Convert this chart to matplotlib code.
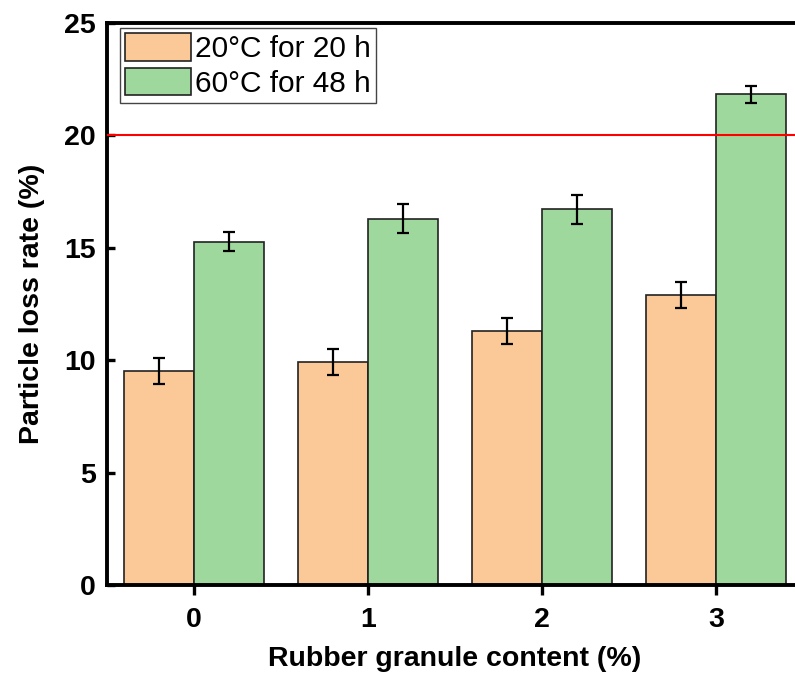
import matplotlib.pyplot as plt
import numpy as np

plt.rcParams['font.family'] = ['Liberation Sans', 'DejaVu Sans']

contents = ["0", "1", "2", "3"]
loss_20c = [9.5, 9.9, 11.28, 12.88]
err_20c = [0.58, 0.58, 0.58, 0.58]
loss_60c = [15.28, 16.3, 16.71, 21.82]
err_60c = [0.42, 0.65, 0.64, 0.36]
limit = 20

x = np.arange(len(contents))
w = 0.4

fig = plt.figure(figsize=(7.95, 6.75), dpi=100)
# axes run past the right edge of the figure, as in the original
ax = fig.add_axes([107 / 795, 90 / 675, 696 / 795, 562 / 675])

ax.bar(x - w / 2, loss_20c, w, color="#FBC997", edgecolor="#222222", linewidth=1.2,
       label="20°C for 20 h", zorder=2)
ax.bar(x + w / 2, loss_60c, w, color="#9FD89D", edgecolor="#222222", linewidth=1.2,
       label="60°C for 48 h", zorder=2)
ax.errorbar(x - w / 2, loss_20c, yerr=err_20c, fmt="none", ecolor="black",
            elinewidth=1.6, capsize=4, capthick=1.6, zorder=3)
ax.errorbar(x + w / 2, loss_60c, yerr=err_60c, fmt="none", ecolor="black",
            elinewidth=1.6, capsize=4, capthick=1.6, zorder=3)
# limit line sits on top of the bars
ax.axhline(limit, color="red", linewidth=1.5, zorder=4)

ax.set_xlim(-0.5, 3.5)
ax.set_ylim(0, 25)
ax.set_xticks(x)
ax.set_xticklabels(contents)
ax.set_yticks([0, 5, 10, 15, 20, 25])

for s in ax.spines.values():
    s.set_linewidth(2.8)
ax.tick_params(axis="x", direction="out", length=7, width=2.4, labelsize=20.5, pad=9)
ax.tick_params(axis="y", direction="in", length=6, width=2.4, labelsize=20.5, pad=8)
for lab in ax.get_xticklabels() + ax.get_yticklabels():
    lab.set_fontweight("bold")

ax.set_xlabel("Rubber granule content (%)", fontsize=20.5, fontweight="bold", labelpad=9)
ax.set_ylabel("Particle loss rate (%)", fontsize=20.5, fontweight="bold", labelpad=14)

leg = ax.legend(loc="upper left", bbox_to_anchor=(13 / 696, 1 - 5 / 562),
                borderaxespad=0, fontsize=21.5, handlelength=2.2, handleheight=1.05,
                fancybox=False, edgecolor="#444444", framealpha=1,
                borderpad=0.17, labelspacing=0.15, handletextpad=0.15)
leg.get_frame().set_linewidth(1)
leg.set_zorder(5)

fig.savefig("out.png", dpi=100)
